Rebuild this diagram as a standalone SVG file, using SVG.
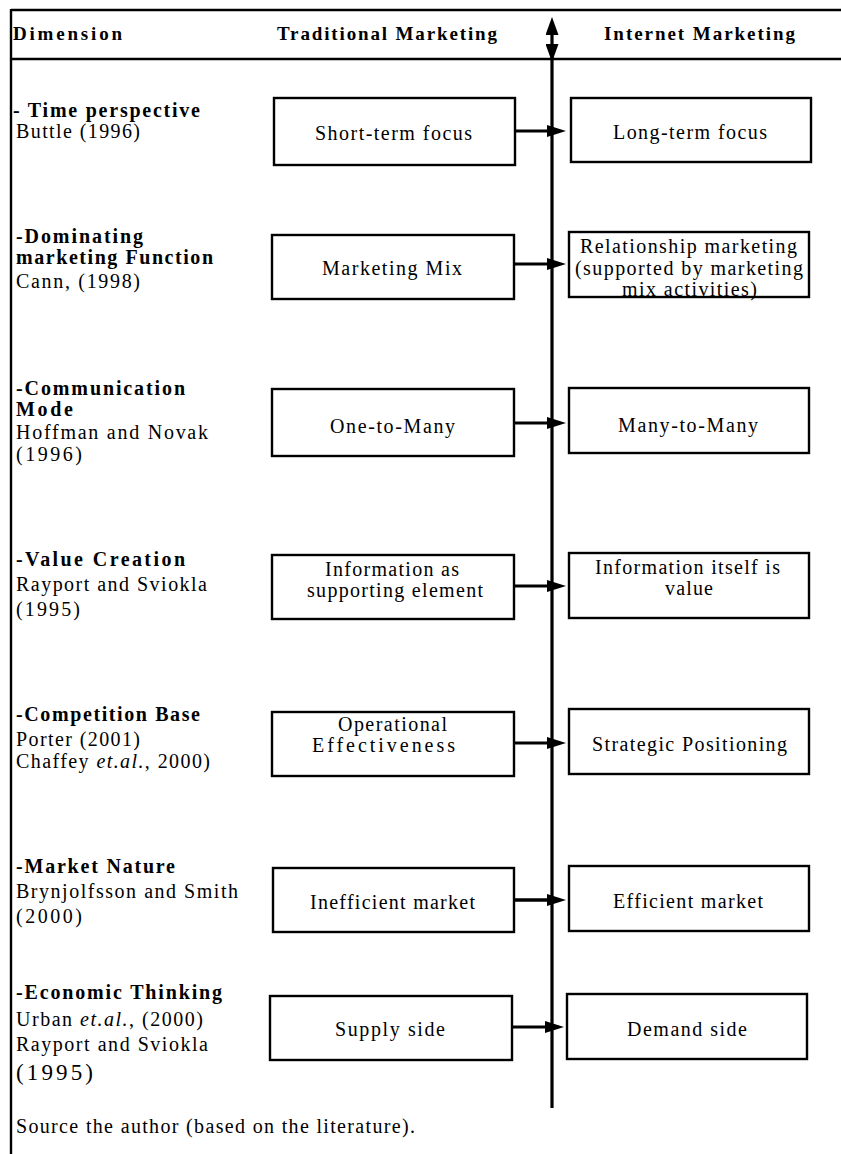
<svg xmlns="http://www.w3.org/2000/svg" width="841" height="1154" viewBox="0 0 841 1154">
<style>
text{font-family:"Liberation Serif","Times New Roman",serif;fill:#000}
.h{font-size:19px;font-weight:bold}
.b{font-size:20px;font-weight:bold}
.r{font-size:20px}
.bx{fill:#fff;stroke:#000;stroke-width:2.4}
.frame{stroke:#000;stroke-width:2.4;fill:none}
.arr{stroke:#000;stroke-width:2.8;fill:none;marker-end:url(#ah)}
.ax{stroke:#000;stroke-width:3.2;fill:none}
</style>
<defs>
<marker id="ah" markerUnits="userSpaceOnUse" markerWidth="19" markerHeight="12" refX="13" refY="6" orient="auto"><path d="M0,0 L19,6 L0,12 z" fill="#000"/></marker>
<marker id="vh" markerUnits="userSpaceOnUse" markerWidth="18" markerHeight="13" refX="2" refY="6.5" orient="auto-start-reverse"><path d="M0,0 L18,6.5 L0,13 z" fill="#000"/></marker>
</defs>
<rect width="841" height="1154" fill="#fff"/>
<g id="frame">
<path class="frame" d="M11,10 H841 M11,59 H841 M11,9 V1154"/>
</g>
<g id="header">
<text class="h" x="13" y="40" textLength="109">Dimension</text>
<text class="h" x="277" y="40" textLength="220">Traditional Marketing</text>
<text class="h" x="604" y="40" textLength="191">Internet Marketing</text>
</g>
<g id="connectors">
<path class="ax" d="M552,33 V46" marker-start="url(#vh)" marker-end="url(#vh)"/>
<path class="ax" d="M552,50 V1108"/>
<path class="arr" d="M515,131 H560"/>
<path class="arr" d="M514,264 H560"/>
<path class="arr" d="M514,423 H560"/>
<path class="arr" d="M514,586 H560"/>
<path class="arr" d="M514,743 H560"/>
<path class="arr" d="M514,900 H560" style="stroke-width:3.6"/>
<path class="arr" d="M512,1027 H558"/>
</g>
<g id="row1">
<text class="b" x="13" y="117" textLength="187">- Time perspective</text>
<text class="r" x="16" y="138" textLength="124">Buttle (1996)</text>
</g>
<g id="row2">
<text class="b" x="16" y="243" textLength="127">-Dominating</text>
<text class="b" x="16" y="264" textLength="197">marketing Function</text>
<text class="r" x="16" y="288" textLength="124">Cann, (1998)</text>
</g>
<g id="row3">
<text class="b" x="16" y="395" textLength="169">-Communication</text>
<text class="b" x="16" y="416" textLength="57">Mode</text>
<text class="r" x="16" y="439" textLength="192">Hoffman and Novak</text>
<text class="r" x="16" y="461" textLength="66">(1996)</text>
</g>
<g id="row4">
<text class="b" x="16" y="566" textLength="169">-Value Creation</text>
<text class="r" x="16" y="591" textLength="191">Rayport and Sviokla</text>
<text class="r" x="16" y="616" textLength="64">(1995)</text>
</g>
<g id="row5">
<text class="b" x="16" y="721" textLength="184">-Competition Base</text>
<text class="r" x="16" y="746" textLength="124">Porter (2001)</text>
<text class="r" x="16" y="768" textLength="194">Chaffey <tspan font-style="italic">et.al.</tspan>, 2000)</text>
</g>
<g id="row6">
<text class="b" x="16" y="873" textLength="159">-Market Nature</text>
<text class="r" x="16" y="898" textLength="222">Brynjolfsson and Smith</text>
<text class="r" x="16" y="923" textLength="66">(2000)</text>
</g>
<g id="row7">
<text class="b" x="16" y="999" textLength="206">-Economic Thinking</text>
<text class="r" x="16" y="1026" textLength="187">Urban <tspan font-style="italic">et.al.</tspan>, (2000)</text>
<text class="r" x="16" y="1051" textLength="192">Rayport and Sviokla</text>
<text class="r" x="16" y="1080" textLength="77" style="font-size:23px">(1995)</text>
</g>
<g id="trad1"><rect class="bx" x="274" y="98" width="241" height="67"/><text class="r" x="315" y="140" textLength="157">Short-term focus</text></g>
<g id="int1"><rect class="bx" x="571" y="98" width="240" height="64"/><text class="r" x="613" y="139" textLength="154">Long-term focus</text></g>
<g id="trad2"><rect class="bx" x="272" y="235" width="242" height="64"/><text class="r" x="322" y="275" textLength="140">Marketing Mix</text></g>
<g id="int2"><rect class="bx" x="569" y="232" width="240" height="65"/>
<text class="r" x="580" y="253" textLength="217">Relationship marketing</text>
<text class="r" x="575" y="275" textLength="228">(supported by marketing</text>
<text class="r" x="622" y="296" textLength="135">mix activities)</text></g>
<g id="trad3"><rect class="bx" x="272" y="389" width="242" height="67"/><text class="r" x="330" y="433" textLength="125">One-to-Many</text></g>
<g id="int3"><rect class="bx" x="569" y="388" width="240" height="65"/><text class="r" x="618" y="432" textLength="140">Many-to-Many</text></g>
<g id="trad4"><rect class="bx" x="272" y="555" width="242" height="64"/>
<text class="r" x="325" y="576" textLength="134">Information as</text>
<text class="r" x="307" y="597" textLength="176">supporting element</text></g>
<g id="int4"><rect class="bx" x="569" y="553" width="240" height="65"/>
<text class="r" x="595" y="574" textLength="185">Information itself is</text>
<text class="r" x="665" y="595" textLength="48">value</text></g>
<g id="trad5"><rect class="bx" x="272" y="712" width="242" height="64"/>
<text class="r" x="338" y="731" textLength="109">Operational</text>
<text class="r" x="312" y="752" textLength="143">Effectiveness</text></g>
<g id="int5"><rect class="bx" x="569" y="709" width="240" height="65"/><text class="r" x="592" y="751" textLength="195">Strategic Positioning</text></g>
<g id="trad6"><rect class="bx" x="273" y="868" width="241" height="64"/><text class="r" x="310" y="909" textLength="165">Inefficient market</text></g>
<g id="int6"><rect class="bx" x="569" y="866" width="240" height="65"/><text class="r" x="613" y="908" textLength="150">Efficient market</text></g>
<g id="trad7"><rect class="bx" x="270" y="996" width="242" height="64"/><text class="r" x="335" y="1036" textLength="110">Supply side</text></g>
<g id="int7"><rect class="bx" x="567" y="994" width="240" height="65"/><text class="r" x="627" y="1036" textLength="120">Demand side</text></g>
<g id="source">
<text class="r" x="16" y="1133" textLength="399">Source the author (based on the literature).</text>
</g>
</svg>
